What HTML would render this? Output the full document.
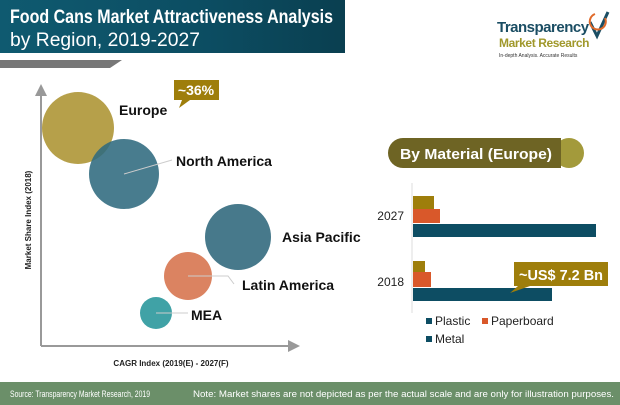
<!DOCTYPE html>
<html><head><meta charset="utf-8"><style>
body{margin:0;width:620px;height:405px;overflow:hidden;background:#fff;font-family:"Liberation Sans",sans-serif;position:relative}
</style></head><body>
<svg style="position:absolute;left:0;top:0" width="620" height="405" font-family="Liberation Sans">
<defs><linearGradient id="g" x1="0" x2="1"><stop offset="0" stop-color="#0f5a70"/><stop offset="0.6" stop-color="#0c4d62"/><stop offset="1" stop-color="#0a3f50"/></linearGradient></defs>
<rect x="0" y="0" width="345" height="53" fill="url(#g)"/>
<text x="10" y="23" font-size="19" font-weight="bold" fill="#fff" textLength="323" lengthAdjust="spacingAndGlyphs">Food Cans Market Attractiveness Analysis</text>
<text x="10" y="46" font-size="19" fill="#fff" textLength="190" lengthAdjust="spacingAndGlyphs">by Region, 2019-2027</text>
<polygon points="0,60 122,60 110,68 0,68" fill="#777"/>
<text x="497" y="32" font-weight="bold" font-size="15" fill="#1a4d63" letter-spacing="-0.5">Transparency</text>
<text x="499" y="47" font-weight="bold" font-size="12" fill="#a0982b" letter-spacing="-0.4">Market Research</text>
<text x="499" y="57" font-size="5" fill="#333">In-depth Analysis. Accurate Results</text>
<path d="M590,22 L597,36 L608,12" stroke="#1a4d63" stroke-width="3" fill="none"/>
<path d="M595,14 a8,8 0 1 0 10,4" stroke="#e06a2a" stroke-width="2" fill="none"/>
<line x1="41" y1="90" x2="41" y2="346" stroke="#999" stroke-width="2"/>
<polygon points="35,96 41,84 47,96" fill="#999"/>
<line x1="41" y1="346" x2="290" y2="346" stroke="#999" stroke-width="2"/>
<polygon points="288,340 300,346 288,352" fill="#999"/>
<text x="31" y="220" transform="rotate(-90 31 220)" text-anchor="middle" font-size="8" font-weight="bold" fill="#222">Market Share Index (2018)</text>
<text x="171" y="366" text-anchor="middle" font-size="8" font-weight="bold" fill="#222">CAGR Index (2019(E) - 2027(F)</text>
<circle cx="78" cy="128" r="36" fill="#b29b40" opacity="0.95"/>
<circle cx="124" cy="174" r="35" fill="#2f6a7e" opacity="0.88"/>
<circle cx="238" cy="237" r="33" fill="#47798b"/>
<circle cx="188" cy="276" r="24" fill="#db8361"/>
<circle cx="156" cy="313" r="16" fill="#40a2a6"/>
<polyline points="124,174 172,160" stroke="#ccc" fill="none"/>
<polyline points="188,276 228,276 234,284" stroke="#ccc" fill="none"/>
<line x1="156" y1="313" x2="188" y2="313" stroke="#ccc"/>
<g font-weight="bold" font-size="14" fill="#111">
<text x="119" y="115">Europe</text>
<text x="176" y="166">North America</text>
<text x="282" y="242">Asia Pacific</text>
<text x="242" y="290">Latin America</text>
<text x="191" y="320">MEA</text>
</g>
<polygon points="174,80 219,80 219,100 190,100 179,108 182,100 174,100" fill="#9e7e0b"/>
<text x="196" y="95" text-anchor="middle" font-weight="bold" font-size="14" fill="#fff">~36%</text>
<circle cx="569" cy="153" r="15" fill="#a39a3b"/>
<path d="M403,138 L561,138 L561,168 L403,168 A15,15 0 0 1 403,138Z" fill="#6e6424"/>
<text x="476" y="159" text-anchor="middle" font-weight="bold" font-size="15" fill="#fff" textLength="152" lengthAdjust="spacingAndGlyphs">By Material (Europe)</text>
<line x1="412" y1="183" x2="412" y2="313" stroke="#ddd"/>
<rect x="413" y="196" width="21" height="13" fill="#9e7e0b"/>
<rect x="413" y="209" width="27" height="14" fill="#d9582a"/>
<rect x="413" y="224" width="183" height="13" fill="#0d4d63"/>
<rect x="413" y="261" width="12" height="11" fill="#9e7e0b"/>
<rect x="413" y="272" width="18" height="15" fill="#d9582a"/>
<rect x="413" y="288" width="139" height="13" fill="#0d4d63"/>
<text x="404" y="220" text-anchor="end" font-size="12" fill="#222">2027</text>
<text x="404" y="286" text-anchor="end" font-size="12" fill="#222">2018</text>
<polygon points="514,262 608,262 608,286 530,286 510,293 518,286 514,286" fill="#9e7e0b"/>
<text x="561" y="280" text-anchor="middle" font-weight="bold" font-size="15" fill="#fff" textLength="84" lengthAdjust="spacingAndGlyphs">~US$ 7.2 Bn</text>
<rect x="426" y="318" width="6" height="6" fill="#0d4d63"/>
<text x="435" y="325" font-size="12" fill="#222">Plastic</text>
<rect x="482" y="318" width="6" height="6" fill="#d9582a"/>
<text x="491" y="325" font-size="12" fill="#222">Paperboard</text>
<rect x="426" y="336" width="6" height="6" fill="#0d4d63"/>
<text x="435" y="343" font-size="12" fill="#222">Metal</text>
<rect x="0" y="382" width="620" height="23" fill="#6b8f69"/>
<text x="10" y="397" font-size="9" fill="#fff" textLength="140" lengthAdjust="spacingAndGlyphs">Source: Transparency Market Research, 2019</text>
<text x="193" y="397" font-size="9" fill="#fff" textLength="421" lengthAdjust="spacingAndGlyphs">Note: Market shares are not depicted as per the actual scale and are only for illustration purposes.</text>
</svg>
</body></html>
